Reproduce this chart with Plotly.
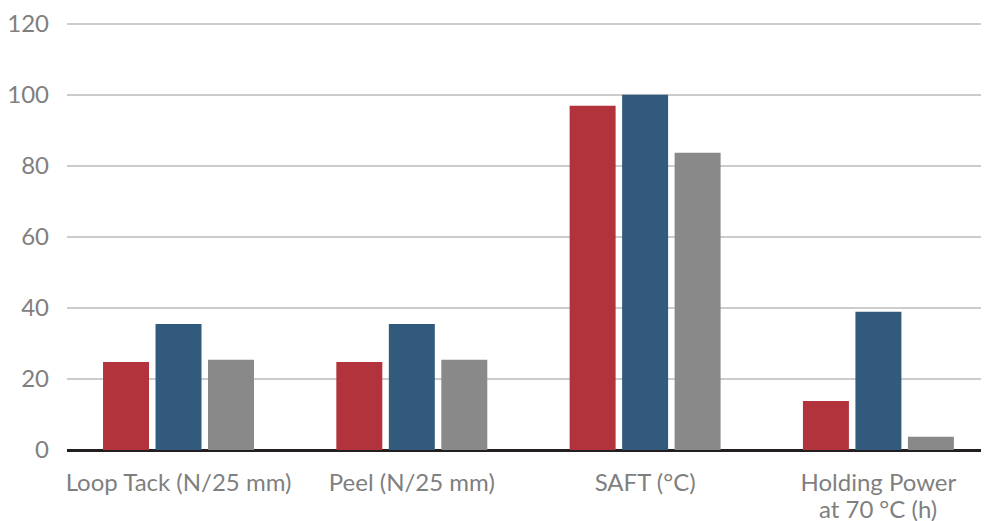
import plotly.graph_objects as go

categories = ["Loop Tack (N/25 mm)", "Peel (N/25 mm)", "SAFT (°C)", "Holding Power at 70\u202f°C (h)"]
tick_line1 = ["Loop Tack (N/25 mm)", "Peel (N/25 mm)", "SAFT (°C)", "Holding Power"]
tick_line2 = ["", "", "", "at 70\u202f°C (h)"]
series_red = [24.8, 24.8, 96.9, 13.8]
series_blue = [35.5, 35.5, 100.0, 38.9]
series_gray = [25.4, 25.4, 83.7, 3.7]
y_ticks = [0, 20, 40, 60, 80, 100, 120]

colors = ["#b3333c", "#325a7d", "#898989"]
label_font = dict(family="Lato", size=24, color="#7f7f7f")

fig = go.Figure()
for vals, c, name in zip([series_red, series_blue, series_gray], colors, ["A", "B", "C"]):
    fig.add_trace(go.Bar(x=categories, y=vals, marker=dict(color=c, line=dict(width=0)), name=name))

# second line of the wrapped category label, with the tight line spacing of the original
for cat, txt in zip(categories, tick_line2):
    if txt:
        fig.add_annotation(x=cat, xref="x", y=0, yref="paper", text=txt, showarrow=False,
                           xanchor="center", yanchor="middle", yshift=-58, font=label_font)

# the page body has an 8px default margin, so the figure is 8px smaller
fig.update_layout(
    width=981, height=513,
    margin=dict(l=59, r=0, t=14, b=71, autoexpand=False),
    paper_bgcolor="white", plot_bgcolor="white",
    barmode="group", bargap=0.325, bargroupgap=0.124,
    showlegend=False,
    font=label_font,
)
fig.update_xaxes(
    type="category",
    range=[-0.478, 3.474],
    tickvals=categories, ticktext=tick_line1,
    showgrid=False, showline=False, ticks="",
    tickfont=label_font,
    ticklabelstandoff=16,
    automargin=False,
)
fig.update_yaxes(
    range=[0, 120.5],
    tickvals=y_ticks,
    showgrid=True, gridcolor="#cccccc", gridwidth=1.5,
    zeroline=True, zerolinecolor="#231f20", zerolinewidth=2.5,
    showline=False, ticks="",
    tickfont=label_font,
    ticklabelstandoff=17,
    automargin=False,
)

fig.write_html("out.html")
